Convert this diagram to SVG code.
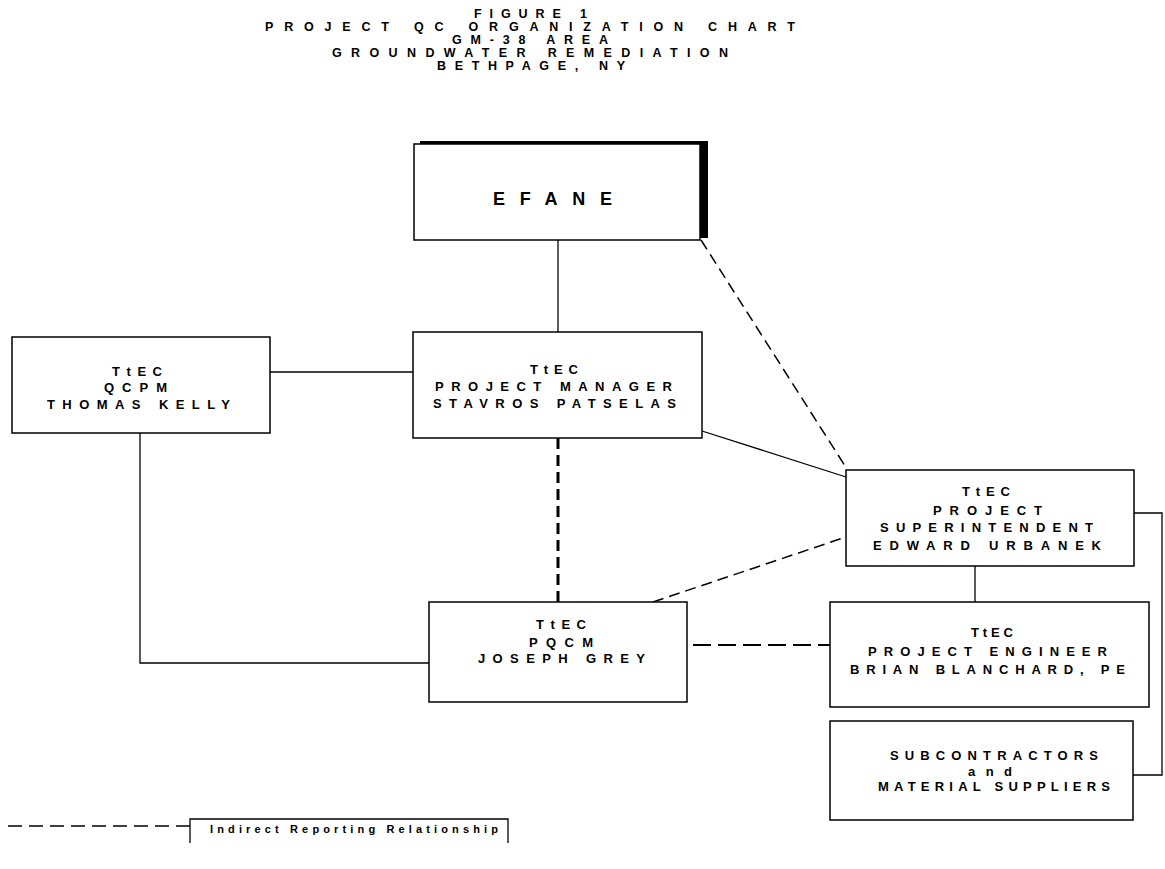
<svg xmlns="http://www.w3.org/2000/svg" width="1165" height="869" viewBox="0 0 1165 869">
<style>
text{font-family:"Liberation Sans",Arial,sans-serif;font-weight:bold;font-size:13px;fill:#000}
.t{font-size:12.5px}
.box{fill:#fff;stroke:#000;stroke-width:1.5}
.ln{fill:none;stroke:#000;stroke-width:1.3}
.dl{fill:none;stroke:#000;stroke-width:1.5;stroke-dasharray:11 6}
</style>
<rect width="1165" height="869" fill="#fff"/>
<g id="title">
<text class="t" x="474" y="18" textLength="113" lengthAdjust="spacing">FIGURE 1</text>
<text class="t" x="265" y="31" textLength="530" lengthAdjust="spacing">PROJECT QC ORGANIZATION CHART</text>
<text class="t" x="452" y="44" textLength="156" lengthAdjust="spacing">GM-38 AREA</text>
<text class="t" x="332" y="57" textLength="396" lengthAdjust="spacing">GROUNDWATER REMEDIATION</text>
<text class="t" x="437" y="70" textLength="188" lengthAdjust="spacing">BETHPAGE, NY</text>
</g>
<g id="connectors">
<line class="ln" x1="558" y1="240" x2="558" y2="332"/>
<line class="ln" x1="270" y1="372" x2="413" y2="372"/>
<line class="ln" x1="702" y1="431" x2="846" y2="477"/>
<line class="dl" x1="701" y1="240" x2="847" y2="469"/>
<line class="dl" x1="558" y1="438" x2="558" y2="602" style="stroke-width:3"/>
<line class="dl" x1="653" y1="602" x2="846" y2="537"/>
<line class="dl" x1="693" y1="645" x2="830" y2="645" style="stroke-width:2;stroke-dasharray:18 7"/>
<polyline class="ln" points="140,433 140,663 429,663"/>
<line class="ln" x1="975" y1="566" x2="975" y2="602"/>
<polyline class="ln" points="1134,513 1162,513 1162,775 1133,775"/>
</g>
<g id="efane">
<rect x="420" y="141" width="288" height="97" fill="#000"/>
<rect class="box" x="414" y="144" width="286" height="96"/>
<text x="493" y="205" textLength="119" lengthAdjust="spacing" style="font-size:18px">EFANE</text>
</g>
<g id="qcpm">
<rect class="box" x="12" y="337" width="258" height="96"/>
<text x="112" y="376" textLength="50" lengthAdjust="spacing">TtEC</text>
<text x="104" y="392" textLength="63" lengthAdjust="spacing">QCPM</text>
<text x="47" y="409" textLength="183" lengthAdjust="spacing">THOMAS KELLY</text>
</g>
<g id="pm">
<rect class="box" x="413" y="332" width="289" height="106"/>
<text x="530" y="374" textLength="48" lengthAdjust="spacing">TtEC</text>
<text x="435" y="391" textLength="237" lengthAdjust="spacing">PROJECT MANAGER</text>
<text x="433" y="408" textLength="243" lengthAdjust="spacing">STAVROS PATSELAS</text>
</g>
<g id="superintendent">
<rect class="box" x="846" y="470" width="288" height="96"/>
<text x="962" y="496" textLength="48" lengthAdjust="spacing">TtEC</text>
<text x="933" y="515" textLength="109" lengthAdjust="spacing">PROJECT</text>
<text x="880" y="532" textLength="213" lengthAdjust="spacing">SUPERINTENDENT</text>
<text x="873" y="550" textLength="228" lengthAdjust="spacing">EDWARD URBANEK</text>
</g>
<g id="pqcm">
<rect class="box" x="429" y="602" width="258" height="100"/>
<text x="536" y="629" textLength="50" lengthAdjust="spacing">TtEC</text>
<text x="529" y="647" textLength="64" lengthAdjust="spacing">PQCM</text>
<text x="478" y="663" textLength="167" lengthAdjust="spacing">JOSEPH GREY</text>
</g>
<g id="engineer">
<rect class="box" x="830" y="602" width="319" height="105"/>
<text x="971" y="637" textLength="42" lengthAdjust="spacing">TtEC</text>
<text x="868" y="656" textLength="239" lengthAdjust="spacing">PROJECT ENGINEER</text>
<text x="850" y="674" textLength="275" lengthAdjust="spacing">BRIAN BLANCHARD, PE</text>
</g>
<g id="subcontractors">
<rect class="box" x="830" y="721" width="303" height="99"/>
<text x="890" y="760" textLength="208" lengthAdjust="spacing">SUBCONTRACTORS</text>
<text x="968" y="776" textLength="44" lengthAdjust="spacing">and</text>
<text x="878" y="791" textLength="232" lengthAdjust="spacing">MATERIAL SUPPLIERS</text>
</g>
<g id="legend">
<line x1="8" y1="826" x2="190" y2="826" style="fill:none;stroke:#000;stroke-width:1.5;stroke-dasharray:14 7"/>
<path d="M190,843 V819 H508 V843" class="ln"/>
<text x="210" y="833" textLength="288" lengthAdjust="spacing" style="font-size:11px">Indirect Reporting Relationship</text>
</g>
</svg>
